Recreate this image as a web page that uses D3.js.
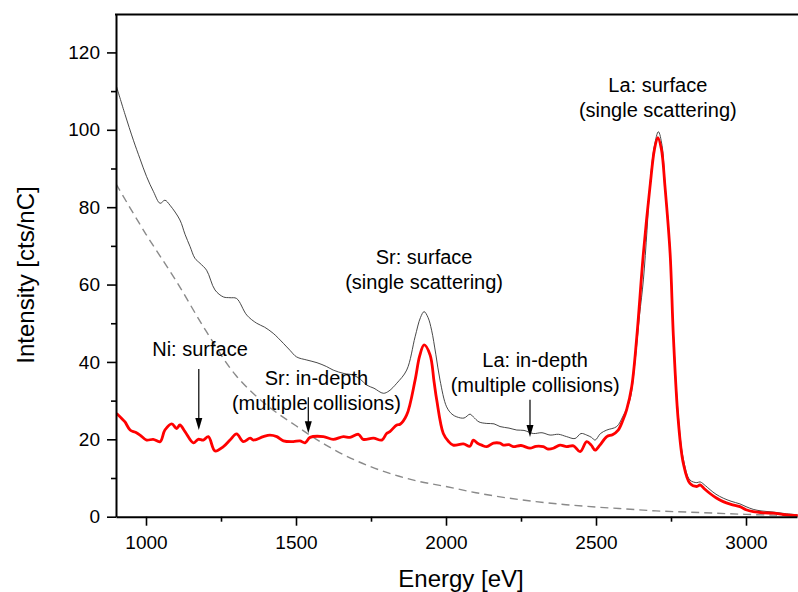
<!DOCTYPE html>
<html>
<head>
  <script src="https://d3js.org/d3.v7.min.js"></script>
</head>
<style>
body { margin: 0; background: #fff; }
text { font-family: "Liberation Sans", Arial, sans-serif; fill: #000; }
</style>
<body>
<script>
    // measured spectrum (black thin line)
    var totalE = [902,930,958,980,1002,1025,1047,1063,1080,1113,1130,1147,1163,1180,1202,1230,1258,1280,1302,1336,1369,1395,1424,1458,1480,1502,1536,1570,1602,1624,1660,1691,1715,1736,1760,1791,1810,1836,1869,1897,1915,1927,1940,1952,1966,1980,2002,2020,2036,2060,2080,2091,2110,2136,2160,2180,2210,2236,2260,2291,2320,2347,2375,2402,2430,2450,2469,2485,2497,2515,2536,2569,2590,2613,2630,2645,2658,2670,2680,2695,2708,2720,2730,2747,2758,2774,2791,2813,2836,2847,2865,2880,2900,2924,2950,2980,3000,3024,3050,3091,3130,3170];
    var totalV = [111.1,104,97.3,92.5,87.9,84,81.0,81.8,80.5,76.7,73,69.8,66.8,65.5,63.7,58.6,56.8,56.6,56.4,52.1,50.0,49,47.4,44.8,43,41.3,40.5,39.8,38.8,37.9,37.0,36.6,35.5,34.0,33.2,31.9,32.5,34.5,37.9,46.5,51.5,53.0,51.5,48.2,42,35.3,28.4,26.5,25.8,25.5,26.5,25.8,24.5,24.1,24.0,23.3,22.9,22.4,22.3,21.5,21.7,21.1,21.3,20.7,20.2,21.5,21.1,20.5,19.8,21.5,22.4,23.3,26,30.2,40,52,61.2,74,86,96,99.5,96,86,69,47.5,26.5,15,9.5,8.8,9.0,8,7.0,5.8,4.8,4.0,3.3,2.6,1.9,1.5,1.2,0.8,0.5];

    // background-subtracted spectrum (red)
    var netE = [902,919,930,947,965,980,1002,1024,1047,1063,1086,1102,1113,1130,1158,1174,1191,1208,1230,1258,1280,1302,1324,1347,1358,1391,1413,1436,1458,1491,1513,1530,1547,1591,1624,1658,1680,1708,1724,1758,1786,1802,1813,1836,1847,1869,1897,1912,1927,1947,1960,1969,1991,2008,2024,2058,2080,2091,2105,2119,2136,2158,2180,2191,2210,2224,2250,2280,2300,2324,2340,2358,2380,2402,2425,2447,2469,2484,2497,2513,2536,2555,2574,2590,2602,2619,2636,2658,2680,2695,2706,2718,2730,2747,2758,2774,2791,2813,2836,2847,2860,2880,2900,2924,2950,2980,3000,3024,3060,3091,3130,3173];
    var netV = [26.7,25.4,24.5,22.4,21.8,21.1,19.8,20.0,19.4,22.4,24.0,22.8,23.7,22.0,19.1,20.0,19.8,20.7,17.0,18.1,19.8,21.4,19.4,20.3,19.8,20.7,21.1,20.7,19.6,19.4,19.6,19.1,20.5,20.7,20.0,20.7,20.5,21.3,20.0,20.3,19.8,21.5,22.0,23.7,23.9,26.3,35.3,41.5,44.4,41.8,35,30.2,21.5,19.5,18.5,18.8,18.2,19.8,19.0,18.5,18.1,19.0,19.0,18.5,18.6,18.1,18.4,17.7,18.2,18.1,17.5,17.7,18.5,18.1,18.3,16.8,19.4,18.5,17.2,18.5,20.7,21.2,22.4,25,27.6,33.6,46.5,68.1,85.3,95,98.0,95,85.3,68.1,46.5,25.0,13.8,8.6,7.8,8.2,7.3,6.0,4.9,3.9,3.2,2.6,1.8,1.3,1.0,0.9,0.5,0.3];

    // background (grey dashed)
    var bgE = [900,1000,1100,1200,1300,1400,1500,1600,1700,1800,1900,2000,2100,2200,2300,2400,2500,2600,2700,2800,2900,3000,3100,3170];
    var bgV = [86,73,61,48,36.5,29,23.5,18.5,14.5,11.5,9.3,7.8,6.2,4.9,3.9,3.1,2.5,2.0,1.5,1.2,0.9,0.6,0.4,0.3];

    var xTicks = [1000, 1500, 2000, 2500, 3000];
    var xMinor = [1250, 1750, 2250, 2750];
    var yTicks = [0, 20, 40, 60, 80, 100, 120];
    var yMinor = [10, 30, 50, 70, 90, 110];

    // labels: text lines, energy of centre, intensity of each baseline
    var labels = [
      {lines: ["La: surface", "(single scattering)"], e: 2706, v: [109.7, 103.4]},
      {lines: ["Sr: surface", "(single scattering)"], e: 1927, v: [65.4, 58.8]},
      {lines: ["Ni: surface"], e: 1180, v: [41.5]},
      {lines: ["Sr: in-depth", "(multiple collisions)"], e: 1568, v: [34.0, 27.6]},
      {lines: ["La: in-depth", "(multiple collisions)"], e: 2297, v: [38.7, 32.3]}
    ];
    var arrows = [
      {e: 1176, from: 38.2, to: 22.4},
      {e: 1541, from: 30.9, to: 21.6},
      {e: 2280, from: 30.2, to: 20.6}
    ];

    var W = 798, H = 592;
    var mLeft = 116, mRight = 797, mTop = 14.5, mBottom = 516.7;

    var svg = d3.select("body")
      .append("svg")
      .attr("width", W)
      .attr("height", H);

    var x = d3.scaleLinear().domain([900, 3170]).range([mLeft, mRight]);
    var y = d3.scaleLinear().domain([0, 129.8]).range([mBottom, mTop]);

    svg.append("clipPath").attr("id", "plot")
      .append("rect")
      .attr("x", mLeft).attr("y", mTop)
      .attr("width", mRight - mLeft + 2).attr("height", mBottom - mTop);

    function zipped(es, vs) {
      return es.map(function(e, i) { return [e, vs[i]]; });
    }

    var line = d3.line()
      .x(function(d) { return x(d[0]); })
      .y(function(d) { return y(d[1]); })
      .curve(d3.curveCatmullRom.alpha(0.5));

    var plot = svg.append("g").attr("clip-path", "url(#plot)");

    plot.append("path")
      .attr("d", line(zipped(bgE, bgV)))
      .attr("fill", "none")
      .attr("stroke", "#8a8a8a")
      .attr("stroke-width", 1.4)
      .attr("stroke-dasharray", "8,5");

    plot.append("path")
      .attr("d", line(zipped(totalE, totalV)))
      .attr("fill", "none")
      .attr("stroke", "#333")
      .attr("stroke-width", 0.9);

    plot.append("path")
      .attr("d", line(zipped(netE, netV)))
      .attr("fill", "none")
      .attr("stroke", "#ff0000")
      .attr("stroke-width", 2.8)
      .attr("stroke-linejoin", "round");

    // axes
    svg.append("g")
      .attr("transform", "translate(0," + mBottom + ")")
      .call(d3.axisBottom(x).tickValues(xTicks).tickFormat(d3.format("d")).tickSize(9).tickSizeOuter(0).tickPadding(10));
    svg.append("g")
      .attr("transform", "translate(0," + mBottom + ")")
      .call(d3.axisBottom(x).tickValues(xMinor).tickSize(5).tickSizeOuter(0).tickFormat(""))
      .select(".domain").remove();

    svg.append("g")
      .attr("transform", "translate(" + mLeft + ",0)")
      .call(d3.axisLeft(y).tickValues(yTicks).tickFormat(d3.format("d")).tickSize(9).tickSizeOuter(0).tickPadding(7));
    svg.append("g")
      .attr("transform", "translate(" + mLeft + ",0)")
      .call(d3.axisLeft(y).tickValues(yMinor).tickSize(5).tickSizeOuter(0).tickFormat(""))
      .select(".domain").remove();

    svg.selectAll(".domain").attr("stroke", "#000").attr("stroke-width", 2);
    svg.selectAll(".tick line").attr("stroke", "#000").attr("stroke-width", 1.6);
    svg.selectAll(".tick text")
      .style("font-family", "Liberation Sans, Arial, sans-serif")
      .style("font-size", "19px")
      .attr("fill", "#000");

    // top frame line
    svg.append("line")
      .attr("x1", mLeft - 1).attr("x2", W)
      .attr("y1", mTop).attr("y2", mTop)
      .attr("stroke", "#000").attr("stroke-width", 2);

    // axis titles
    svg.append("text")
      .attr("x", 461).attr("y", 587)
      .attr("text-anchor", "middle")
      .style("font-size", "24px")
      .text("Energy [eV]");

    svg.append("text")
      .attr("transform", "translate(34,275) rotate(-90)")
      .attr("text-anchor", "middle")
      .style("font-size", "24px")
      .text("Intensity [cts/nC]");

    // annotations
    labels.forEach(function(l) {
      l.lines.forEach(function(t, i) {
        svg.append("text")
          .attr("x", x(l.e))
          .attr("y", y(l.v[i]))
          .attr("text-anchor", "middle")
          .style("font-size", "20px")
          .text(t);
      });
    });

    arrows.forEach(function(a) {
      var ax = x(a.e), y0 = y(a.from), y1 = y(a.to);
      svg.append("line")
        .attr("x1", ax).attr("x2", ax)
        .attr("y1", y0).attr("y2", y1 - 10)
        .attr("stroke", "#000").attr("stroke-width", 1.2);
      svg.append("path")
        .attr("d", "M" + (ax - 3.5) + "," + (y1 - 12) + "L" + (ax + 3.5) + "," + (y1 - 12) + "L" + ax + "," + y1 + "Z")
        .attr("fill", "#000");
    });
</script>
</body>
</html>
